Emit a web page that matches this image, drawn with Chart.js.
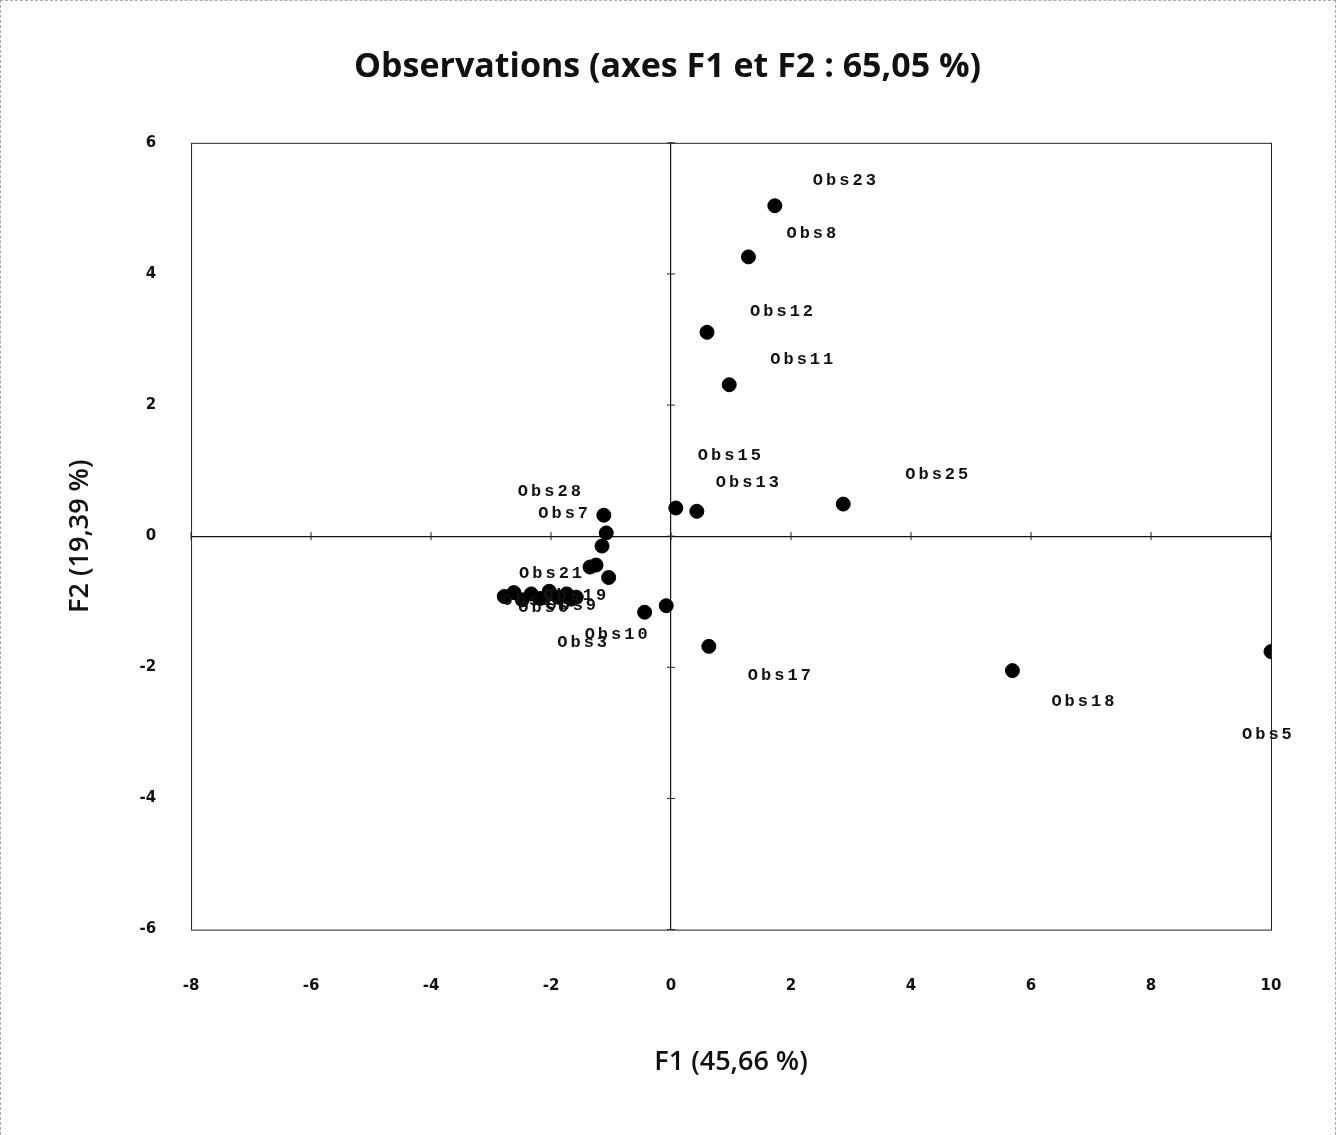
<!DOCTYPE html>
<html>
<head>
<meta charset="utf-8">
<script src="https://cdn.jsdelivr.net/npm/chart.js@4/dist/chart.umd.min.js"></script>
<style>
  html, body { margin: 0; padding: 0; background: #fff; }
  #wrap { position: relative; width: 1336px; height: 1135px; box-sizing: border-box; border: 1px dashed #aaa; border-bottom: none; }
</style>
</head>
<body>
<div id="wrap"><canvas id="chart"></canvas></div>
<script>
// observations (F1, F2 coordinates)
const obsNames = ['Obs23', 'Obs8', 'Obs12', 'Obs11', 'Obs15', 'Obs13', 'Obs25', 'Obs17', 'Obs18', 'Obs5',
  'Obs28', 'Obs7', 'Obs20', 'Obs21', 'Obs22', 'Obs27', 'Obs9', 'Obs10', 'Obs3',
  'Obs1', 'Obs4', 'Obs6', 'Obs14', 'Obs16', 'Obs19', 'Obs24', 'Obs26', 'Obs2'];
const f1Values = [1.73, 1.29, 0.60, 0.97, 0.08, 0.43, 2.87, 0.63, 5.69, 10.0,
  -1.12, -1.08, -1.15, -1.35, -1.25, -1.04, -1.58, -0.44, -0.08,
  -2.78, -2.62, -2.48, -2.33, -2.18, -2.03, -1.88, -1.74, -1.66];
const f2Values = [5.04, 4.26, 3.11, 2.31, 0.43, 0.38, 0.49, -1.68, -2.05, -1.76,
  0.32, 0.05, -0.15, -0.47, -0.44, -0.63, -0.93, -1.16, -1.06,
  -0.92, -0.86, -0.97, -0.88, -0.95, -0.84, -0.93, -0.88, -0.96];
const xTicks = [-8, -6, -4, -2, 0, 2, 4, 6, 8, 10];
const yTicks = [-6, -4, -2, 0, 2, 4, 6];

// where each label sits relative to its point (px); the cluster labels pile up
const labelOffsets = {
  Obs23: [38, -25], Obs8: [38, -23], Obs12: [43, -21], Obs11: [41, -25],
  Obs15: [22, -52], Obs13: [19, -29], Obs25: [62, -29], Obs17: [39, 29],
  Obs18: [39, 31], Obs5: [-29, 83], Obs28: [-86, -23], Obs7: [-68, -19],
  Obs21: [-71, 7], Obs9: [-30, 9], Obs10: [-60, 22], Obs3: [-109, 37],
  Obs1: [-2, 4], Obs6: [-4, 8], Obs19: [-6, 4]
};

const points = obsNames.map((n, i) => ({ x: f1Values[i], y: f2Values[i], name: n }));

const framePlugin = {
  id: 'frame',
  afterDatasetsDraw(chart) {
    const { ctx, chartArea: a, scales } = chart;
    const xs = scales.x, ys = scales.y;
    ctx.save();
    ctx.strokeStyle = '#222';
    ctx.lineWidth = 1;
    ctx.strokeRect(a.left + 0.5, a.top + 0.5, a.width, a.height);
    // small ticks on the zero axes
    const x0 = xs.getPixelForValue(0), y0 = ys.getPixelForValue(0);
    ctx.beginPath();
    xTicks.forEach(v => {
      const px = xs.getPixelForValue(v);
      ctx.moveTo(px, y0 - 4); ctx.lineTo(px, y0 + 4);
    });
    yTicks.forEach(v => {
      const py = ys.getPixelForValue(v);
      ctx.moveTo(x0 - 4, py); ctx.lineTo(x0 + 4, py);
    });
    ctx.stroke();
    // point labels
    ctx.fillStyle = '#111';
    ctx.font = 'bold 17px "Liberation Mono"';
    ctx.letterSpacing = '3px';
    ctx.textBaseline = 'middle';
    ctx.textAlign = 'left';
    points.forEach(p => {
      const off = labelOffsets[p.name];
      if (!off) return;
      ctx.fillText(p.name, xs.getPixelForValue(p.x) + off[0], ys.getPixelForValue(p.y) + off[1]);
    });
    ctx.restore();
  }
};

const zeroLine = c => (c.tick && c.tick.value === 0 ? '#111' : 'rgba(0,0,0,0)');

new Chart(document.getElementById('chart'), {
  type: 'scatter',
  data: {
    datasets: [{
      data: points,
      backgroundColor: '#000',
      borderColor: '#000',
      pointRadius: 7,
      pointHoverRadius: 7
    }]
  },
  options: {
    responsive: true,
    maintainAspectRatio: false,
    animation: false,
    layout: { padding: { left: 63, right: 64, top: 0, bottom: 56 } },
    plugins: {
      legend: { display: false },
      tooltip: { enabled: false },
      title: {
        display: true,
        text: 'Observations (axes F1 et F2 : 65,05 %)',
        color: '#111',
        font: { family: '"Open Sans"', size: 34, weight: '700' },
        padding: { top: 46, bottom: 55 }
      }
    },
    scales: {
      x: {
        type: 'linear',
        min: -8, max: 10,
        afterBuildTicks: s => { s.ticks = xTicks.map(v => ({ value: v })); },
        grid: { color: zeroLine, drawTicks: false, lineWidth: 1.2 },
        border: { display: false },
        ticks: { color: '#111', padding: 48, font: { family: '"DejaVu Sans"', size: 15, weight: 'bold' } },
        title: {
          display: true, text: 'F1 (45,66 %)', color: '#111',
          font: { family: '"Open Sans"', size: 27, weight: '600' },
          padding: { top: 3, bottom: 0 }
        }
      },
      y: {
        type: 'linear',
        min: -6, max: 6,
        afterBuildTicks: s => { s.ticks = yTicks.map(v => ({ value: v })); },
        grid: { color: zeroLine, drawTicks: false, lineWidth: 1.2 },
        border: { display: false },
        ticks: { color: '#111', padding: 35, font: { family: '"DejaVu Sans"', size: 15, weight: 'bold' } },
        title: {
          display: true, text: 'F2 (19,39 %)', color: '#111',
          font: { family: '"Open Sans"', size: 27, weight: '600' },
          padding: { top: 0, bottom: 8 }
        }
      }
    }
  },
  plugins: [framePlugin]
});
</script>
</body>
</html>
